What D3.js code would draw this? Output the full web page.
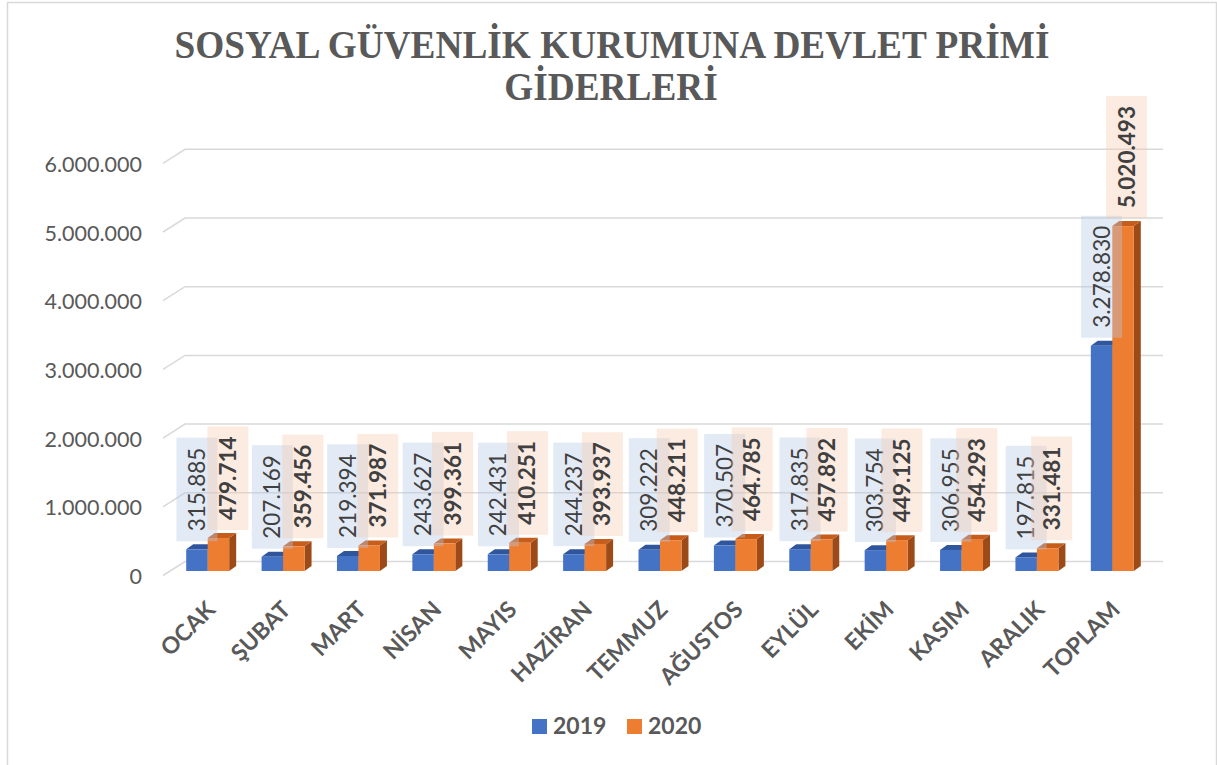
<!DOCTYPE html>
<html>
<head>
<meta charset="utf-8">
<script src="https://cdn.jsdelivr.net/npm/d3@7"></script>
<style>
  body { margin: 0; background: #fff; }
  svg { display: block; }
</style>
</head>
<body>
<svg width="1217" height="765"></svg>
<script>
const months = ["OCAK", "ŞUBAT", "MART", "NİSAN", "MAYIS", "HAZİRAN", "TEMMUZ", "AĞUSTOS", "EYLÜL", "EKİM", "KASIM", "ARALIK", "TOPLAM"];
const years = ["2019", "2020"];
const values2019 = [315885, 207169, 219394, 243627, 242431, 244237, 309222, 370507, 317835, 303754, 306955, 197815, 3278830];
const values2020 = [479714, 359456, 371987, 399361, 410251, 393937, 448211, 464785, 457892, 449125, 454293, 331481, 5020493];
const yTicks = [0, 1000000, 2000000, 3000000, 4000000, 5000000, 6000000];
const titleLines = ["SOSYAL GÜVENLİK KURUMUNA DEVLET PRİMİ", "GİDERLERİ"];

const trLocale = d3.formatLocale({decimal: ",", thousands: ".", grouping: [3], currency: ["", ""]});
const fmt = trLocale.format(",d");

const svg = d3.select("svg");
const gray = "#595959";

// cerceve
svg.append("rect")
  .attr("x", 7.5).attr("y", 2.5)
  .attr("width", 1209).attr("height", 800)
  .attr("fill", "none")
  .attr("stroke", "#d9d9d9")
  .attr("stroke-width", 1.5);

// baslik
const titleG = svg.append("g");
const t1 = titleG.append("text")
  .attr("x", 612).attr("y", 58)
  .attr("text-anchor", "middle")
  .style("font-family", "'Liberation Serif', 'Times New Roman', serif")
  .style("font-weight", "bold")
  .style("font-size", "41px")
  .attr("fill", gray)
  .text(titleLines[0]);
const squeeze = 875 / t1.node().getComputedTextLength();
t1.attr("textLength", 875).attr("lengthAdjust", "spacingAndGlyphs");
const t2 = titleG.append("text")
  .attr("x", 611).attr("y", 100)
  .attr("text-anchor", "middle")
  .style("font-family", "'Liberation Serif', 'Times New Roman', serif")
  .style("font-weight", "bold")
  .style("font-size", "41px")
  .attr("fill", gray)
  .text(titleLines[1]);
t2.attr("textLength", t2.node().getComputedTextLength() * squeeze).attr("lengthAdjust", "spacingAndGlyphs");

// olcekler
const x = d3.scaleBand().domain(months).range([170, 1150]);
const groupW = x.bandwidth() * 0.57;
const xs = d3.scaleBand().domain(years).range([0, groupW]);
const y = d3.scaleLinear().domain([0, 6000000]).range([571, 571 - 6 * 68.7]);
const backShift = -9.5;   // arka duvar
const floorDx = 22, floorDy = 14;
const depthX = 7, depthY = 5;

// izgara
const grid = svg.append("g");
yTicks.forEach(t => {
  const yb = y(t) + backShift;
  grid.append("path")
    .attr("d", `M${x.range()[0] - 7},${yb + floorDy} L${x.range()[0] - 7 + floorDx},${yb} L1163,${yb}`)
    .attr("fill", "none")
    .attr("stroke", "#d9d9d9")
    .attr("stroke-width", 1.5);
  grid.append("text")
    .attr("x", 142)
    .attr("y", yb + 15)
    .attr("dy", "0.35em")
    .attr("text-anchor", "end")
    .style("font-family", "Lato, 'Open Sans', sans-serif")
    .style("font-size", "21.5px")
    .attr("fill", gray)
    .text(fmt(t));
});

// cubuklar
const data = months.map((m, i) => ({month: m, i: i, v: [values2019[i], values2020[i]]}));
const colors = [
  {front: "#4472c4", top: "#2f559c", side: "#2f528f"},
  {front: "#ed7d31", top: "#c65d1a", side: "#9c4a18"}
];

const bars = svg.append("g");
data.forEach(d => {
  const gx = x(d.month) + (x.bandwidth() - groupW) / 2;
  years.forEach((yr, k) => {
    const x0 = gx + xs(yr), w = xs.bandwidth();
    const y0 = y(d.v[k]), y1 = y(0);
    const c = colors[k];
    bars.append("path")
      .attr("d", `M${x0 + w},${y0} L${x0 + w + depthX},${y0 - depthY} L${x0 + w + depthX},${y1 - depthY} L${x0 + w},${y1} Z`)
      .attr("fill", c.side);
    bars.append("path")
      .attr("d", `M${x0},${y0} L${x0 + depthX},${y0 - depthY} L${x0 + w + depthX},${y0 - depthY} L${x0 + w},${y0} Z`)
      .attr("fill", c.top);
    bars.append("rect")
      .attr("x", x0).attr("y", y0)
      .attr("width", w).attr("height", y1 - y0)
      .attr("fill", c.front);
  });
});

// veri etiketleri
const labels = svg.append("g");
const boxFill = ["#b4c7e7", "#f8cbad"];
data.forEach(d => {
  const gx = x(d.month) + (x.bandwidth() - groupW) / 2;
  years.forEach((yr, k) => {
    const cx = gx + xs(yr) + xs.bandwidth() / 2 + (k === 1 ? 9.5 - 6 * d.i / 12 : 0);
    const bottom = y(d.v[k]) - 8;
    const g = labels.append("g");
    const box = g.append("rect")
      .attr("fill", boxFill[k])
      .attr("fill-opacity", 0.38);
    const txt = g.append("text")
      .attr("transform", `translate(${cx + 8},${bottom - 10}) rotate(-90)`)
      .style("font-family", "Lato, 'Open Sans', sans-serif")
      .style("font-size", "22.5px")
      .style("font-weight", k === 1 ? "bold" : "normal")
      .attr("fill", "#404040")
      .text(fmt(d.v[k]));
    const len = txt.node().getComputedTextLength();
    box.attr("x", cx - 20.5).attr("y", bottom - len - 20)
      .attr("width", 41).attr("height", len + 20);
  });
});

// x ekseni etiketleri
svg.append("g").selectAll("text")
  .data(months)
  .join("text")
  .attr("transform", m => `translate(${x(m) + x.bandwidth() / 2 + 9},${611}) rotate(-45)`)
  .attr("text-anchor", "end")
  .style("font-family", "Lato, 'Open Sans', sans-serif")
  .style("font-size", "23px")
  .style("font-weight", "bold")
  .attr("fill", gray)
  .text(m => m);

// lejant
const legend = svg.append("g");
const legendX = [532, 627];
years.forEach((yr, k) => {
  legend.append("rect")
    .attr("x", legendX[k]).attr("y", 719)
    .attr("width", 15).attr("height", 15)
    .attr("fill", colors[k].front);
  legend.append("text")
    .attr("x", legendX[k] + 21).attr("y", 734)
    .style("font-family", "Lato, 'Open Sans', sans-serif")
    .style("font-size", "23px")
    .style("font-weight", "bold")
    .attr("fill", gray)
    .text(yr);
});
</script>
</body>
</html>
